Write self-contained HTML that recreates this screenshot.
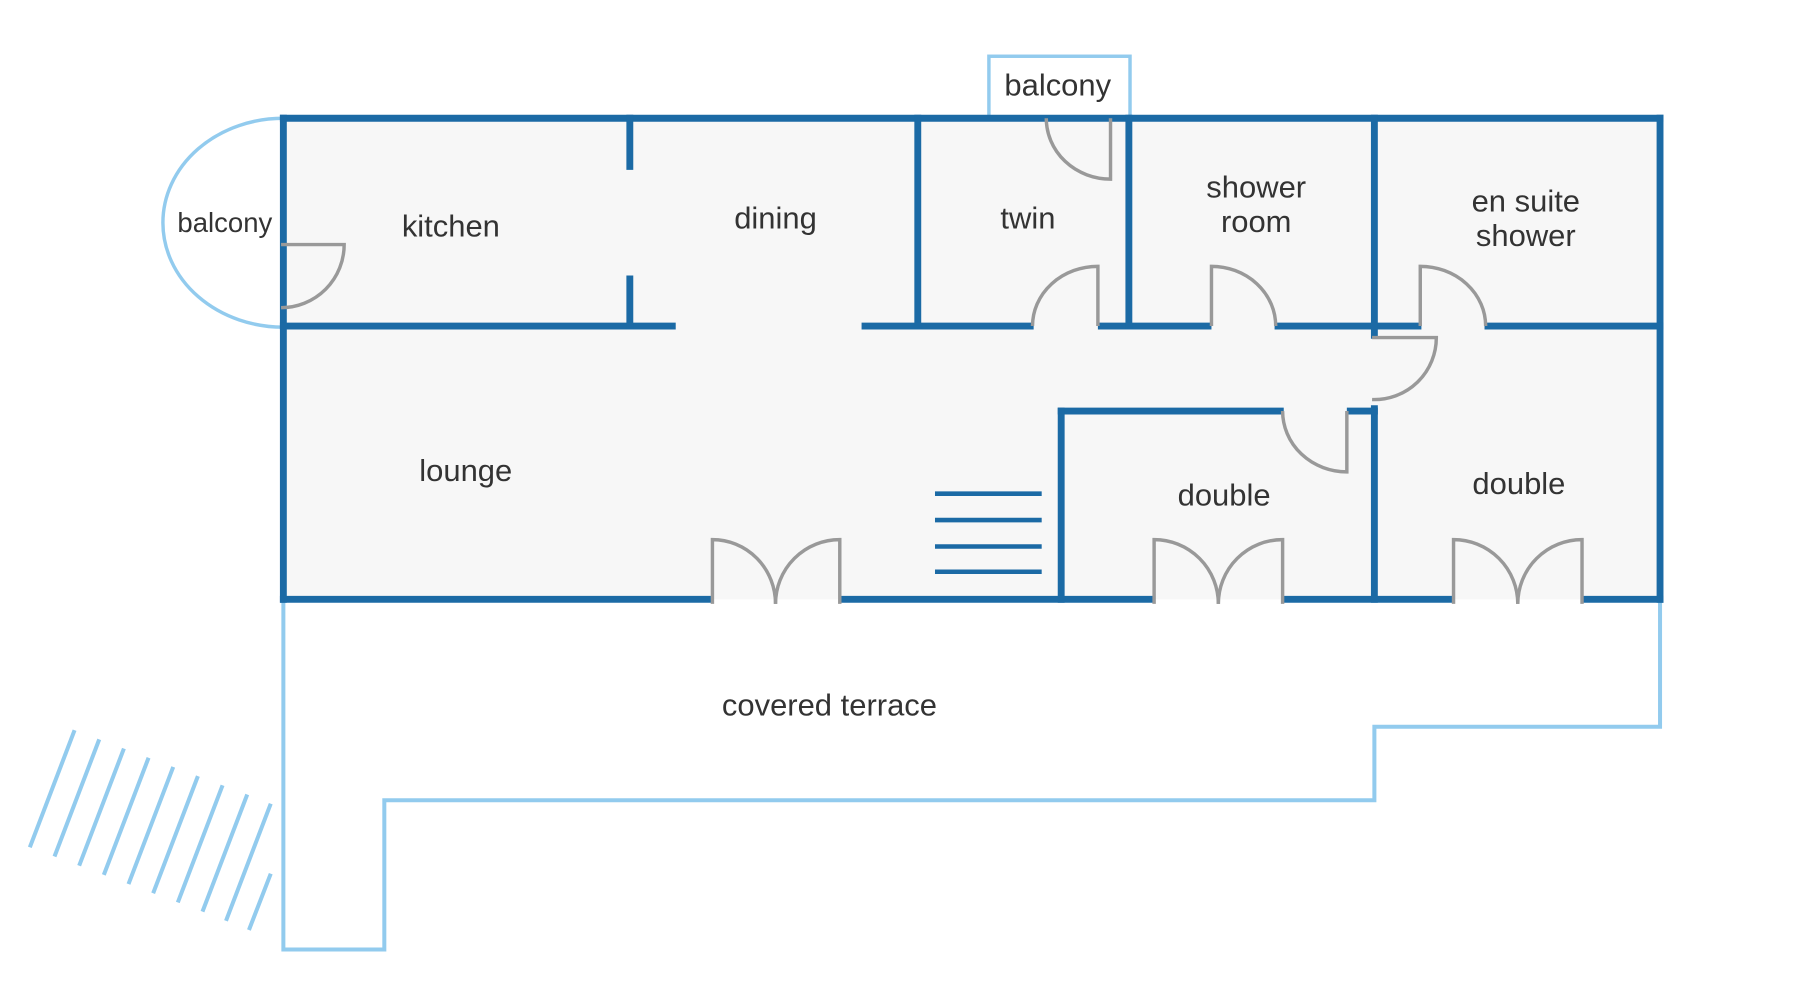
<!DOCTYPE html>
<html><head><meta charset="utf-8"><style>
html,body{margin:0;padding:0;background:#fff;}
svg{display:block;}
text{font-family:"Liberation Sans","DejaVu Sans",sans-serif;fill:#333;text-anchor:middle;dominant-baseline:central;}
</style></head><body>
<svg width="1800" height="1000" viewBox="0 0 1569 871" preserveAspectRatio="none" xmlns="http://www.w3.org/2000/svg">
<rect x="0" y="0" width="1569" height="871" fill="#fff"/>
<path d="M247,522 L247,827 L335,827 L335,697 L1198,697 L1198,633 L1447,633 L1447,522" fill="none" stroke="#92cbee" stroke-width="3.5"/>
<g stroke="#92cbee" stroke-width="3.5">
<line x1="65" y1="636" x2="26" y2="738"/>
<line x1="86.5" y1="644" x2="47.5" y2="746"/>
<line x1="108" y1="652" x2="69" y2="754"/>
<line x1="129.5" y1="660" x2="90.5" y2="762"/>
<line x1="151" y1="668" x2="112" y2="770"/>
<line x1="172.5" y1="676" x2="133.5" y2="778"/>
<line x1="194" y1="684" x2="155" y2="786"/>
<line x1="215.5" y1="692" x2="176.5" y2="794"/>
<line x1="236" y1="700" x2="197" y2="802"/>
<line x1="236" y1="761" x2="217" y2="810"/>
</g>
<rect x="862" y="49" width="123" height="56" fill="#fff" stroke="#92cbee" stroke-width="3"/>
<path d="M247,103 A105,91 0 0 0 247,285" fill="#fff" stroke="#92cbee" stroke-width="3"/>
<rect x="247" y="103" width="1200" height="419" fill="#f7f7f7"/>
<g stroke="#1b6aa5" stroke-width="6" fill="none" stroke-linecap="square">
<line x1="247" y1="103" x2="1447" y2="103"/>
<line x1="247" y1="103" x2="247" y2="522"/>
<line x1="1447" y1="103" x2="1447" y2="522"/>
<line x1="247" y1="284" x2="586" y2="284"/>
<line x1="754" y1="284" x2="898" y2="284"/>
<line x1="960" y1="284" x2="1053" y2="284"/>
<line x1="1114" y1="284" x2="1236" y2="284"/>
<line x1="1297" y1="284" x2="1447" y2="284"/>
<line x1="549" y1="103" x2="549" y2="145"/>
<line x1="549" y1="243" x2="549" y2="284"/>
<line x1="800" y1="103" x2="800" y2="284"/>
<line x1="984" y1="103" x2="984" y2="284"/>
<line x1="1198" y1="103" x2="1198" y2="292"/>
<line x1="1198" y1="356" x2="1198" y2="522"/>
<line x1="925" y1="358" x2="1116" y2="358"/>
<line x1="1177" y1="358" x2="1198" y2="358"/>
<line x1="925" y1="358" x2="925" y2="522"/>
<line x1="247" y1="522" x2="618" y2="522"/>
<line x1="735" y1="522" x2="1003" y2="522"/>
<line x1="1120" y1="522" x2="1264" y2="522"/>
<line x1="1382" y1="522" x2="1447" y2="522"/>
</g>
<g stroke="#1b6aa5" stroke-width="4">
<line x1="815" y1="430" x2="908" y2="430"/>
<line x1="815" y1="453" x2="908" y2="453"/>
<line x1="815" y1="476" x2="908" y2="476"/>
<line x1="815" y1="498" x2="908" y2="498"/>
</g>
<g stroke="#999" stroke-width="3" fill="none">
<path d="M245,213 L300,213 A55,55 0 0 1 245,268"/>
<path d="M968,103 L968,156 A56,53 0 0 1 912,103"/>
<path d="M957,284 L957,232 A57,52 0 0 0 900,284"/>
<path d="M1056,284 L1056,232 A56,52 0 0 1 1112,284"/>
<path d="M1238,284 L1238,232 A57,52 0 0 1 1295,284"/>
<path d="M1196,294 L1252,294 A54,54 0 0 1 1196,348"/>
<path d="M1174,358 L1174,411 A56,53 0 0 1 1118,358"/>
<path d="M621,526 L621,470 A55,56 0 0 1 676,526"/>
<path d="M732,526 L732,470 A56,56 0 0 0 676,526"/>
<path d="M1006,526 L1006,470 A56,56 0 0 1 1062,526"/>
<path d="M1118,526 L1118,470 A56,56 0 0 0 1062,526"/>
<path d="M1267,526 L1267,470 A56,56 0 0 1 1323,526"/>
<path d="M1379,526 L1379,470 A56,56 0 0 0 1323,526"/>
</g>
<g font-size="27">
<text x="922" y="74">balcony</text>
<text x="196" y="194" font-size="24">balcony</text>
<text x="393" y="197">kitchen</text>
<text x="676" y="190">dining</text>
<text x="896" y="190">twin</text>
<text x="1095" y="163">shower</text>
<text x="1095" y="193">room</text>
<text x="1330" y="175">en suite</text>
<text x="1330" y="205">shower</text>
<text x="406" y="410">lounge</text>
<text x="1067" y="431">double</text>
<text x="1324" y="421">double</text>
<text x="723" y="614">covered terrace</text>
</g>
</svg>
</body></html>
